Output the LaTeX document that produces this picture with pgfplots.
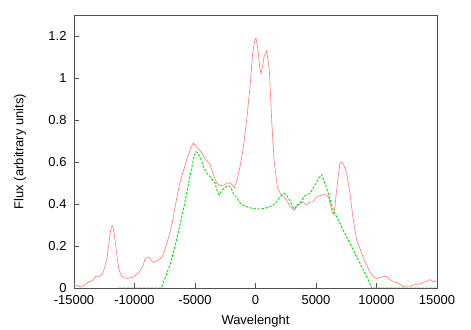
\documentclass[border=0pt]{standalone}
\usepackage{pgfplots}
\pgfplotsset{compat=1.18}
\usepackage{fontspec}
\setmainfont{Liberation Sans}
\definecolor{fluxred}{RGB}{255,120,120}
\definecolor{fitgreen}{RGB}{0,225,0}
\definecolor{axgray}{RGB}{80,80,80}
\begin{document}
\begin{tikzpicture}
\path[use as bounding box] (0,0) rectangle (471bp,330bp);
\begin{axis}[
  at={(74bp,42bp)}, anchor=south west,
  scale only axis, width=363bp, height=273bp,
  xmin=-15000, xmax=15000, ymin=0, ymax=1.3,
  xtick={-15000,-10000,-5000,0,5000,10000,15000},
  ytick={0,0.2,0.4,0.6,0.8,1,1.2},
  scaled x ticks=false, scaled y ticks=false,
  tick align=inside, tick pos=left,
  major tick length=5bp,
  axis line style={axgray, line width=0.8pt},
  every tick/.style={axgray, line width=0.6pt},
  /pgf/number format/assume math mode=true,
  /pgf/number format/set thousands separator={},
  ticklabel style={font=\fontsize{13}{15}\selectfont},
  xticklabel style={yshift=-4bp},
  yticklabel style={xshift=-4bp},
  label style={font=\fontsize{13}{15}\selectfont},
  xlabel={Wavelenght}, ylabel={Flux (arbitrary units)},
  xlabel style={at={(axis description cs:0.5,-0.121)}, anchor=center},
  ylabel style={at={(axis description cs:-0.149,0.5)}, anchor=center},
]
\addplot[fluxred, line width=0.6pt] coordinates {
(-15000,0.018)(-14700,0.01)(-14450,0.005)(-14100,0.015)(-13760,0.03)(-13500,0.035)(-13210,0.055)(-12900,0.055)(-12660,0.065)(-12450,0.1)(-12250,0.15)(-12100,0.22)(-11970,0.276)(-11850,0.297)(-11750,0.285)(-11560,0.21)(-11400,0.13)(-11280,0.086)(-11100,0.06)(-10870,0.05)(-10600,0.045)(-10320,0.05)(-10100,0.052)(-9900,0.062)(-9700,0.07)(-9490,0.086)(-9300,0.105)(-9150,0.135)(-8940,0.148)(-8750,0.145)(-8600,0.13)(-8390,0.122)(-8200,0.13)(-7950,0.135)(-7700,0.15)(-7500,0.18)(-7290,0.22)(-7100,0.26)(-6880,0.31)(-6600,0.40)(-6400,0.46)(-6190,0.514)(-5970,0.555)(-5770,0.594)(-5560,0.63)(-5360,0.665)(-5140,0.69)(-4900,0.675)(-4670,0.66)(-4400,0.64)(-4100,0.61)(-3760,0.59)(-3500,0.54)(-3200,0.50)(-2934,0.487)(-2600,0.49)(-2300,0.5)(-2107,0.5)(-1900,0.49)(-1750,0.475)(-1500,0.52)(-1280,0.578)(-1000,0.67)(-727,0.80)(-450,0.96)(-231,1.12)(-50,1.18)(41,1.19)(234,1.12)(350,1.05)(454,1.02)(600,1.06)(702,1.10)(923,1.13)(1143,1.04)(1336,0.80)(1530,0.61)(1805,0.48)(2050,0.45)(2300,0.435)(2550,0.42)(2850,0.387)(3200,0.37)(3450,0.39)(3680,0.40)(3900,0.41)(4230,0.395)(4500,0.41)(4780,0.41)(5060,0.435)(5330,0.44)(5600,0.445)(5880,0.443)(6050,0.43)(6160,0.405)(6300,0.37)(6430,0.35)(6550,0.38)(6710,0.467)(6850,0.54)(6980,0.595)(7124,0.60)(7300,0.585)(7540,0.547)(7810,0.45)(8080,0.324)(8360,0.23)(8770,0.166)(9000,0.13)(9190,0.11)(9400,0.08)(9740,0.054)(10000,0.045)(10300,0.05)(10600,0.055)(10840,0.054)(11100,0.04)(11390,0.03)(11700,0.025)(12000,0.015)(12250,0.005)(12500,0.01)(12800,0.008)(13100,0.015)(13600,0.02)(14000,0.03)(14420,0.04)(14700,0.03)(15000,0.035)
};
\addplot[fitgreen, line width=0.9pt, dash pattern=on 2.5pt off 1.5pt] coordinates {
(-11300,0)(-7785,0)(-7010,0.118)(-6460,0.244)(-5910,0.387)(-5360,0.547)(-5100,0.62)(-4940,0.649)(-4800,0.645)(-4530,0.617)(-4310,0.578)(-4000,0.545)(-3760,0.53)(-3350,0.50)(-3150,0.46)(-3000,0.443)(-2800,0.465)(-2500,0.48)(-2190,0.487)(-2000,0.475)(-1832,0.45)(-1500,0.425)(-1280,0.405)(-900,0.39)(-450,0.382)(0,0.377)(370,0.376)(800,0.38)(1100,0.385)(1470,0.395)(1800,0.415)(2025,0.435)(2355,0.45)(2600,0.44)(2850,0.415)(3050,0.39)(3200,0.376)(3450,0.395)(3680,0.405)(4090,0.44)(4500,0.45)(4920,0.49)(5200,0.52)(5470,0.54)(5880,0.475)(6430,0.37)(7250,0.276)(8080,0.18)(8910,0.086)(9300,0.04)(9600,0)(15000,0)
};
\end{axis}
\end{tikzpicture}
\end{document}
